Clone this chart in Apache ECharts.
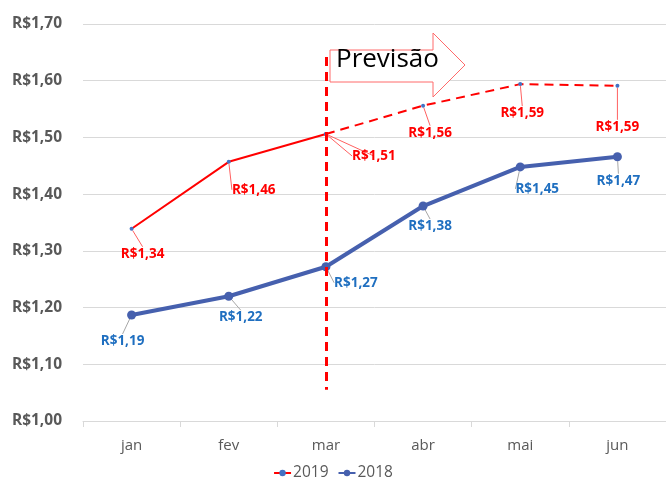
<!DOCTYPE html>
<html><head><meta charset="utf-8">
<script src="https://cdn.jsdelivr.net/npm/echarts@6/dist/echarts.min.js"></script>
<style>html,body{margin:0;padding:0;background:#fff}#c{width:666px;height:479px}</style>
</head><body><div id="c"></div>
<script>
const categories = ['jan','fev','mar','abr','mai','jun'];
const values2019 = [1.339, 1.457, 1.506, 1.556, 1.594, 1.591];
const values2018 = [1.187, 1.220, 1.272, 1.379, 1.448, 1.466];
const forecastStart = 2; // index of 'mar'
const yTicks = [1.0, 1.1, 1.2, 1.3, 1.4, 1.5, 1.6, 1.7];

// label offsets (style only)
const off2019 = [[11,25],[25,28],[48,22],[7,27],[2,29],[0,41]];
const off2018 = [[-9,26],[12,21],[30,16],[7,20],[17,22],[1,24]];

const fmt = v => 'R$' + v.toFixed(2).replace('.', ',');
const solid2019 = values2019.map((v,i)=> i<=forecastStart ? v : null);
const dashed2019 = values2019.map((v,i)=> i>=forecastStart ? v : null);

const FONT = 'Open Sans, sans-serif';
const chart = echarts.init(document.getElementById('c'), null, {renderer:'canvas'});

const redLabel = {show:true, position:'inside', color:'#FF0000', fontWeight:'bold', fontSize:13.5, fontFamily:FONT, formatter:p=>fmt(p.value)};
const blueLabel = {show:true, position:'inside', color:'#1F6FC0', fontWeight:'bold', fontSize:13.5, fontFamily:FONT, formatter:p=>fmt(p.value)};

chart.setOption({
  animation:false,
  grid:{left:83, right:-4, top:24, bottom:58},
  legend:{top:465, left:'center', itemWidth:17, itemHeight:8, itemGap:9, padding:0,
    textStyle:{color:'#595959', fontSize:15.5, fontFamily:FONT, padding:[0,0,0,-3]},
    data:['2019','2018']},
  xAxis:{type:'category', data:categories, boundaryGap:true,
    axisLine:{lineStyle:{color:'#d9d9d9'}},
    axisTick:{show:true, length:6, lineStyle:{color:'#d9d9d9'}},
    axisLabel:{color:'#595959', fontSize:15, fontFamily:FONT, margin:17}},
  yAxis:{type:'value', min:yTicks[0], max:yTicks[yTicks.length-1], interval:0.1,
    axisLine:{show:false}, axisTick:{show:false},
    splitLine:{lineStyle:{color:'#d9d9d9'}},
    axisLabel:{color:'#595959', fontSize:15.5, fontWeight:'bold', fontFamily:FONT, margin:21,
      formatter:v=>fmt(v)}},
  graphic:[
    {type:'polygon', z:50,
      shape:{points:[[330,50],[433,50],[433,33],[465,65],[433,97],[433,82],[330,82]]},
      style:{fill:'#ffffff', stroke:'#FF6A6A', lineWidth:1}},
    {type:'text', z:51, left:336, top:47,
      style:{text:'Previsão', fill:'#000', font:'26px "Open Sans", sans-serif'}}
  ],
  series:[
    {name:'2019', type:'line', data:solid2019, z:3,
      lineStyle:{color:'#FF0000', width:2}, itemStyle:{color:'#4472C4'},
      symbol:'circle', symbolSize:4, showAllSymbol:true,
      label:Object.assign({}, redLabel, {formatter:p=> p.dataIndex===forecastStart ? '' : fmt(p.value)}),
      labelLine:{show:true, lineStyle:{color:'#FF6060', width:1}},
      labelLayout:p=>({dx:off2019[p.dataIndex][0], dy:off2019[p.dataIndex][1]}),
      markLine:{symbol:'none', silent:true, label:{show:false},
        lineStyle:{color:'#FF0000', type:[9,6], width:3},
        data:[[{coord:['mar',1.642]},{coord:['mar',1.055]}]]}
    },
    {name:'2019', type:'line', data:dashed2019, z:3,
      lineStyle:{color:'#FF0000', width:2, type:[9,6]}, itemStyle:{color:'#4472C4'},
      symbol:'circle', symbolSize:4,
      label:redLabel,
      labelLine:{show:true, lineStyle:{color:'#FF6060', width:1}},
      labelLayout:p=>({dx:off2019[p.dataIndex][0], dy:off2019[p.dataIndex][1]})
    },
    {name:'2018', type:'line', data:values2018, z:4,
      lineStyle:{color:'#4660AE', width:4}, itemStyle:{color:'#4660AE'},
      symbol:'circle', symbolSize:9,
      label:blueLabel,
      labelLine:{show:true, lineStyle:{color:'#A6A6A6', width:1}},
      labelLayout:p=>({dx:off2018[p.dataIndex][0], dy:off2018[p.dataIndex][1]})
    }
  ]
});
</script></body></html>
